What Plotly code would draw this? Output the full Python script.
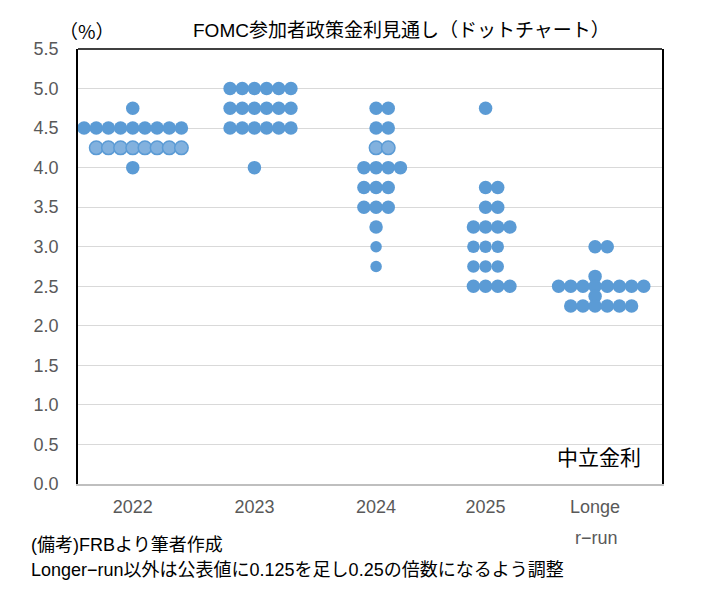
import plotly.graph_objects as go

# FOMC dot chart (values already shifted +0.125 except longer-run)
labels = ["2022", "2023", "2024", "2025", "Longe"]
centers = [0.45, 1.45, 2.45, 3.35, 4.25]

rates_2022 = [4.75, 4.5, 4.25, 4.0]
counts_2022 = [1, 9, 8, 1]
rates_2023 = [5.0, 4.75, 4.5, 4.0]
counts_2023 = [6, 6, 6, 1]
rates_2024 = [4.75, 4.5, 4.25, 4.0, 3.75, 3.5, 3.25, 3.0, 2.75]
counts_2024 = [2, 2, 2, 4, 3, 3, 1, 1, 1]
rates_2025 = [4.75, 3.75, 3.5, 3.25, 3.0, 2.75, 2.5]
counts_2025 = [1, 2, 2, 4, 3, 3, 4]
rates_lr = [3.0, 2.625, 2.5, 2.375, 2.25]
counts_lr = [2, 1, 8, 1, 6]

y_ticks = [0.0, 0.5, 1.0, 1.5, 2.0, 2.5, 3.0, 3.5, 4.0, 4.5, 5.0, 5.5]

columns = [(rates_2022, counts_2022), (rates_2023, counts_2023),
           (rates_2024, counts_2024), (rates_2025, counts_2025),
           (rates_lr, counts_lr)]

BLUE = "#5b9bd5"
LIGHT = "#82b1de"
light_rows = {(0, 4.25), (2, 4.25)}
small_rows = {(2, 3.0): 11.5, (2, 2.75): 11.5, (3, 3.0): 12.5, (3, 2.75): 12.5}
step = 0.1

W, H = 702, 591
OFF = 8  # page body margin
L, R, T, B = 78, 662, 49, 484  # plot area on the page


def px(x):
    return (x - L) / (R - L)


def py(y):
    return (B - y) / (B - T)


fig = go.Figure()
for ci, (rates, counts) in enumerate(columns):
    for r, n in zip(rates, counts):
        xs = [centers[ci] + step * (k - (n - 1) // 2) for k in range(n)]
        light = (ci, r) in light_rows
        fig.add_trace(go.Scatter(
            x=xs, y=[r] * n, mode="markers", showlegend=False,
            hoverinfo="y",
            marker=dict(size=small_rows.get((ci, r), 13.5),
                        color=LIGHT if light else BLUE,
                        line=dict(color=BLUE, width=1.5 if light else 0)),
        ))

font_main = "Liberation Sans, Noto Sans CJK JP, sans-serif"

fig.update_layout(
    width=W, height=H, autosize=False,
    margin=dict(l=L - OFF, r=W - R + OFF, t=T - OFF, b=H - B + OFF),
    paper_bgcolor="white", plot_bgcolor="white",
    font=dict(family=font_main, size=18, color="#595959"),
    xaxis=dict(range=[0, 4.8], tickvals=centers, ticktext=labels,
               showgrid=False, zeroline=False, showline=True,
               linecolor="#bfbfbf", linewidth=1.5, ticks="",
               ticklabelstandoff=6, fixedrange=True),
    yaxis=dict(range=[0, 5.5], tickvals=y_ticks,
               ticktext=["%.1f" % v for v in y_ticks],
               showgrid=True, gridcolor="#d9d9d9", gridwidth=1,
               zeroline=False, showline=True, linecolor="black",
               linewidth=1.5, mirror=True, ticks="",
               ticklabelstandoff=14, fixedrange=True),
    shapes=[dict(type="line", xref="paper", yref="paper", x0=0, x1=1,
                 y0=1, y1=1, line=dict(color="black", width=1.5))],
)

annos = [
    dict(text="（%）", x=px(87), y=py(31), xanchor="center",
         font=dict(family="Noto Sans CJK JP", size=19, color="black")),
    dict(text="FOMC参加者政策金利見通し（ドットチャート）", x=px(401), y=py(31),
         xanchor="center", font=dict(size=19, color="black")),
    dict(text="中立金利", x=px(643), y=py(457), xanchor="right",
         font=dict(size=21, color="black")),
    dict(text="r−run", x=px(596), y=py(538), xanchor="center",
         font=dict(size=18, color="#595959")),
    dict(text="(備考)FRBより筆者作成", x=px(29), y=py(545), xanchor="left",
         font=dict(size=18, color="black")),
    dict(text="Longer−run以外は公表値に0.125を足し0.25の倍数になるよう調整",
         x=px(29), y=py(570), xanchor="left",
         font=dict(size=18, color="black")),
]
for a in annos:
    fig.add_annotation(xref="paper", yref="paper", yanchor="middle",
                       showarrow=False, **a)

fig.write_html("out.html")
